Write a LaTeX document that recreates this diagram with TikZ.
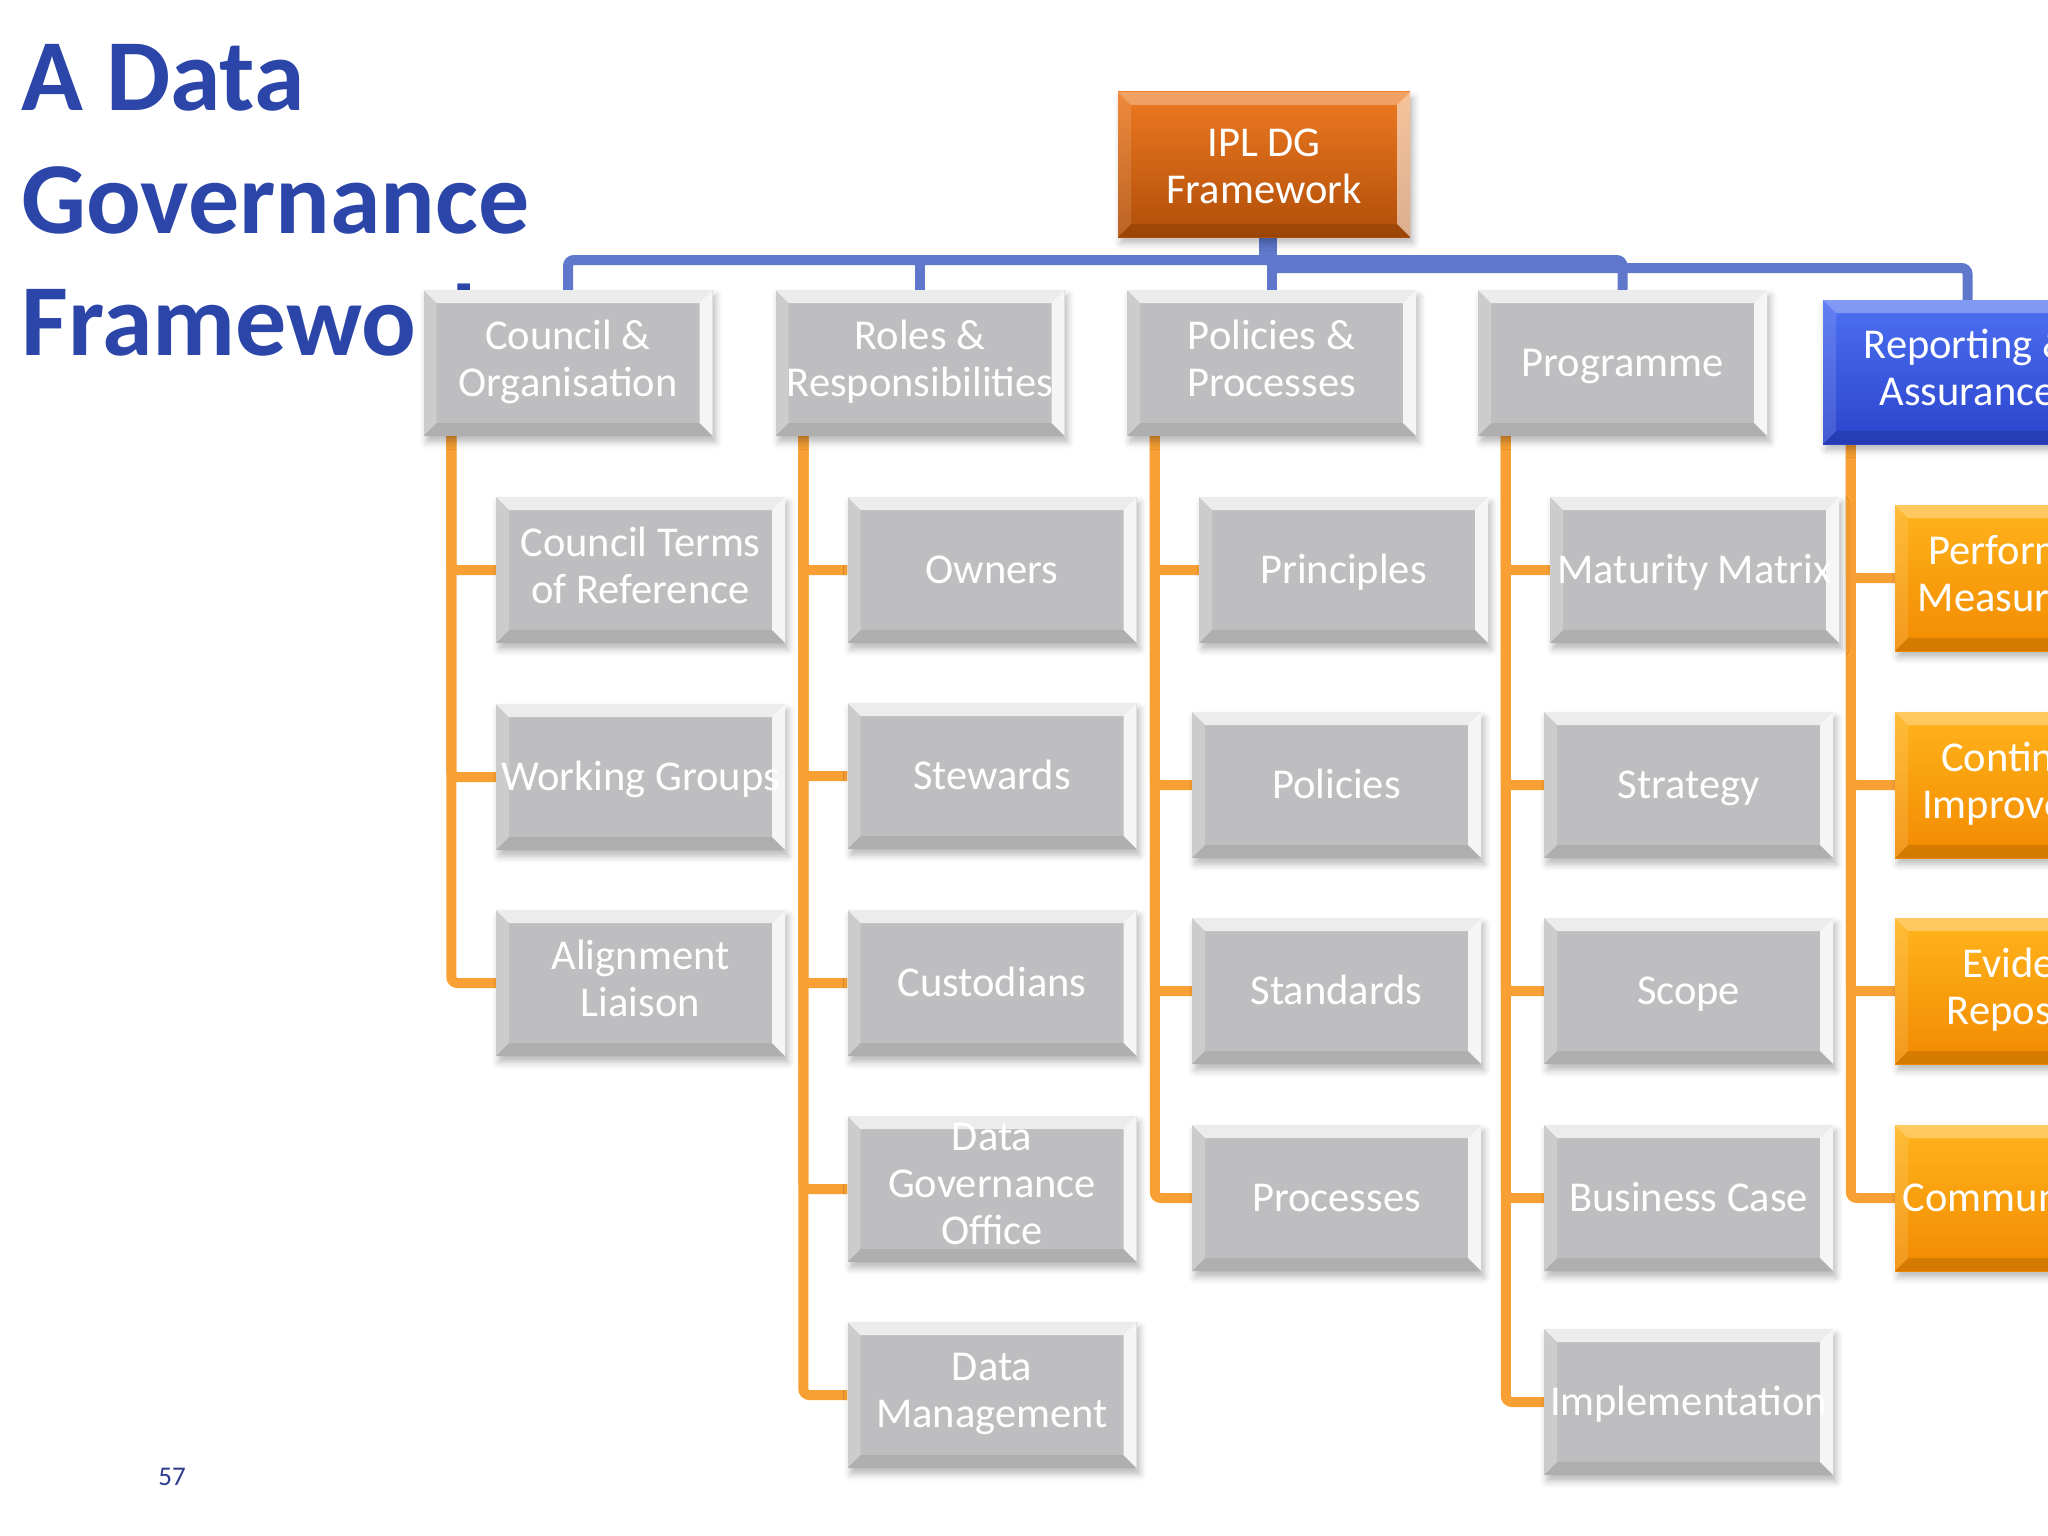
\documentclass[tikz,border=0pt]{standalone}
\usepackage{fontspec}
\setmainfont{Carlito}
\usetikzlibrary{shadows.blur,backgrounds}
\definecolor{titleblue}{HTML}{2B46A8}
\definecolor{blueline}{HTML}{5F78CC}
\definecolor{orangeline}{HTML}{F8A033}
\definecolor{boxgray}{HTML}{BEBEC0}
\definecolor{iplTop}{HTML}{EE7A22}
\definecolor{iplBot}{HTML}{B04E08}
\definecolor{repTop}{HTML}{4D70F2}
\definecolor{repBot}{HTML}{2A44CC}
\definecolor{orTop}{HTML}{FFB41C}
\definecolor{orBot}{HTML}{F28A00}
\definecolor{pagenum}{HTML}{2D3C8C}
\newcommand\boxfont{\fontsize{42.5}{47}\selectfont}
\newcommand\boxstrut{\rule[-10pt]{0pt}{47pt}}
\newcommand\mybevel[4]{%
    \coordinate (pNW) at (path picture bounding box.north west);
    \coordinate (pNE) at (path picture bounding box.north east);
    \coordinate (pSW) at (path picture bounding box.south west);
    \coordinate (pSE) at (path picture bounding box.south east);
    \fill[white,opacity=#1] (pNW) -- (pNE) -- ([xshift=-13pt,yshift=-13pt]pNE) -- ([xshift=13pt,yshift=-13pt]pNW) -- cycle;
    \fill[white,opacity=#2] (pNE) -- (pSE) -- ([xshift=-13pt,yshift=13pt]pSE) -- ([xshift=-13pt,yshift=-13pt]pNE) -- cycle;
    \fill[white,opacity=#3] (pNW) -- ([xshift=13pt,yshift=-13pt]pNW) -- ([xshift=13pt,yshift=13pt]pSW) -- (pSW) -- cycle;
    \fill[black,opacity=#4] (pSW) -- ([xshift=13pt,yshift=13pt]pSW) -- ([xshift=-13pt,yshift=13pt]pSE) -- (pSE) -- cycle;
}
\tikzset{
  shadowed/.style={blur shadow={shadow xshift=3pt, shadow yshift=-6pt, shadow blur radius=7pt, shadow opacity=28}},
  boxbase/.style={rectangle, minimum width=289pt, minimum height=146pt, inner sep=0pt,
    align=center, text=white, font=\boxfont,
    execute at begin node=\boxstrut, execute at end node=\boxstrut, shadowed},
  graybox/.style={boxbase, fill=boxgray, path picture={\mybevel{0.72}{0.85}{0.22}{0.08}}},
  colbox/.style 2 args={boxbase, fill=#2, path picture={%
     \shade[top color=#1, bottom color=#2] (path picture bounding box.north west) rectangle (path picture bounding box.south east);
     \mybevel{0.3}{0.55}{0.12}{0.12}}},
  iplbox/.style={colbox={iplTop}{iplBot}, minimum width=292pt, minimum height=145pt},
  repbox/.style={colbox={repTop}{repBot}, minimum height=144pt},
  orbox/.style={colbox={orTop}{orBot}},
  bconn/.style={draw=blueline, line width=10pt, rounded corners=6pt},
  oconn/.style={draw=orangeline, line width=10pt, rounded corners=6pt},
  titletext/.style={anchor=base west, inner sep=0pt, text=titleblue, font=\bfseries\fontsize{102}{122}\selectfont},
}
\begin{document}
\begin{tikzpicture}[x=1pt,y=-1pt]
\useasboundingbox (0,0) rectangle (2048,1536);
\begin{scope}[on background layer]
\fill[white] (0,0) rectangle (2048,1536);
\end{scope}
% warm-up for the shadow fading, placed outside the page
\path[shadowed, fill=white] (-300,-300) rectangle (-250,-250);
\clip (0,0) rectangle (2048,1536);
% title
\node[titletext] (t1) at (21,111) {A Data};
\node[titletext] (t2) at (21,233) {Governance};
\begin{scope}
\clip (0,250) -- (2048,250) -- (2048,289) -- (416,289) -- (416,420) -- (0,420) -- cycle;
\node[titletext] (t3) at (21,355) {Framework};
\end{scope}
\node[anchor=base, inner sep=0pt, text=pagenum, font=\fontsize{27}{30}\selectfont] (pg) at (172,1485) {57};
% top
\node[iplbox] (ipl) at (1264,164.5) {\rule{0pt}{40pt}IPL DG\\Framework};
% level 1
\node[graybox] (council) at (568,363) {Council \&\\Organisation};
\node[graybox] (roles) at (920,363) {Roles \&\\Responsibilities};
\node[graybox] (policies) at (1271.5,363) {Policies \&\\Processes};
\node[graybox] (programme) at (1622.5,363) {Programme};
\node[repbox] (reporting) at (1967.5,372) {Reporting \&\\Assurance};
% column 1
\node[graybox] (c1) at (640.5,570) {Council Terms\\of Reference};
\node[graybox] (c2) at (640.5,777) {Working Groups};
\node[graybox] (c3) at (640.5,983) {Alignment\\Liaison};
% column 2
\node[graybox] (r1) at (992,570) {Owners};
\node[graybox] (r2) at (992,776) {Stewards};
\node[graybox] (r3) at (992,983) {Custodians};
\node[graybox] (r4) at (992,1189) {Data\\Governance\\Office};
\node[graybox] (r5) at (992,1395) {Data\\Management};
% column 3
\node[graybox] (p1) at (1343.5,570) {Principles};
\node[graybox] (p2) at (1336.5,785) {Policies};
\node[graybox] (p3) at (1336.5,991) {Standards};
\node[graybox] (p4) at (1336.5,1198) {Processes};
% column 4
\node[graybox] (g1) at (1694.5,570) {Maturity Matrix};
\node[graybox] (g2) at (1688.5,785) {Strategy};
\node[graybox] (g3) at (1688.5,991) {Scope};
\node[graybox] (g4) at (1688.5,1198) {Business Case};
\node[graybox] (g5) at (1688.5,1402) {Implementation};
% column 5
\node[orbox] (a1) at (2039.5,578) {Performance\\Measurement};
\node[orbox] (a2) at (2039.5,785) {Continuous\\Improvement};
\node[orbox] (a3) at (2039.5,991) {Evidence\\Repository};
\node[orbox] (a4) at (2039.5,1198) {Communication};
% connectors
\coordinate (busA) at (1264,260);
\coordinate (busB) at (1271.5,268);
\begin{scope}[on background layer]
\draw[bconn] (ipl.south) -- (busA);
\draw[bconn] (council.north) |- (busA);
\draw[bconn] (programme.north) |- (busA);
\draw[bconn] (roles.north) -- (roles.north |- busA);
\draw[bconn] (policies.north |- ipl.south) -- (policies.north);
\draw[bconn] (reporting.north) |- (busB);
\foreach \p/\c in {council/c1,council/c2,council/c3,
                   roles/r1,roles/r2,roles/r3,roles/r4,roles/r5,
                   policies/p1,policies/p2,policies/p3,policies/p4,
                   programme/g1,programme/g2,programme/g3,programme/g4,programme/g5,
                   reporting/a1,reporting/a2,reporting/a3,reporting/a4}
  \draw[oconn] ([xshift=28pt]\p.south west) |- (\c.west);
\end{scope}
\end{tikzpicture}
\end{document}
